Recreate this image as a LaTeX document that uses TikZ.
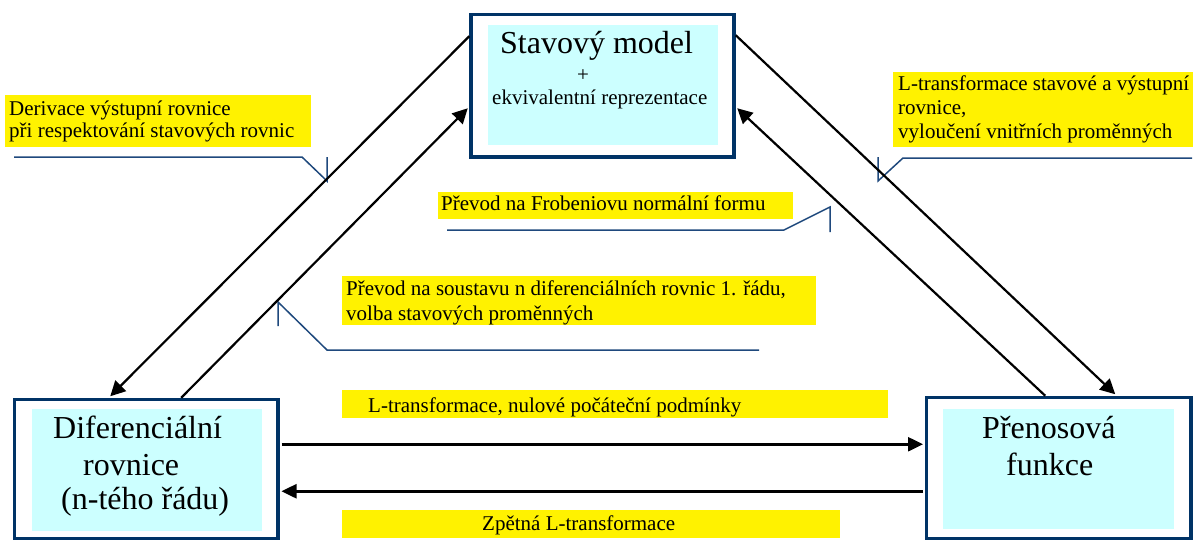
\documentclass[tikz,border=0pt]{standalone}
\usepackage{fontspec}
\setmainfont{Liberation Serif}
\usetikzlibrary{arrows.meta,calc}
\definecolor{navy}{RGB}{0,51,102}
\definecolor{cyanbg}{RGB}{204,255,255}
\definecolor{callblue}{RGB}{31,73,125}
\begin{document}
\begin{tikzpicture}[x=1pt,y=-1pt,
  outerbox/.style={draw=navy, line width=3.5pt, inner sep=0pt},
  cyanfill/.style={fill=cyanbg, inner sep=0pt},
  ylw/.style={fill=yellow, inner sep=0pt},
  bigtxt/.style={font=\fontsize{32}{38}\selectfont, anchor=base west, inner sep=0pt},
  smalltxt/.style={font=\fontsize{21}{24}\selectfont, anchor=base west, inner sep=0pt},
  conn/.style={line width=2.2pt, -{Triangle[length=15pt,width=15pt]}},
  hconn/.style={line width=2.5pt, -{Triangle[length=15pt,width=14pt]}},
  callout/.style={draw=callblue, line width=1.5pt}]
\useasboundingbox (0,0) rectangle (1203,541);
\fill[white] (0,0) rectangle (1203,541);

% cyan inner areas
\node[cyanfill, minimum width=230pt, minimum height=120pt] (smc) at (603,85) {};
\node[cyanfill, minimum width=230pt, minimum height=122pt] (dpc) at (147,470) {};
\node[cyanfill, minimum width=231pt, minimum height=120pt] (pfc) at (1058.5,469) {};

% outer boxes
\node[outerbox, minimum width=263pt, minimum height=142.5pt] (sm) at (602.5,85.75) {};
\node[outerbox, minimum width=263.5pt, minimum height=139pt] (dp) at (146.25,469) {};
\node[outerbox, minimum width=264.5pt, minimum height=141pt] (pf) at (1058.75,468) {};

% box texts
\node[bigtxt] (smt1) at (500,53) {Stavový model};
\node[font=\fontsize{21}{24}\selectfont, inner sep=0pt] (smt2) at (583,76) {+};
\node[smalltxt] (smt3) at (492,104) {ekvivalentní reprezentace};

\node[bigtxt] (dpt1) at (53,438) {Diferenciální};
\node[bigtxt] (dpt2) at (83,475) {rovnice};
\node[bigtxt] (dpt3) at (61,509) {(n-tého řádu)};

\node[bigtxt] (pft1) at (982,438) {Přenosová};
\node[bigtxt] (pft2) at (1006,475) {funkce};

% yellow labels
\node[ylw, minimum width=306pt, minimum height=52pt] (la) at (158,121) {};
\node[smalltxt] (lat1) at (9,115) {Derivace výstupní rovnice};
\node[smalltxt] (lat2) at (9,137) {při respektování stavových rovnic};

\node[ylw, minimum width=300pt, minimum height=75pt] (lb) at (1043,109.5) {};
\node[smalltxt] (lbt1) at (898,90) {L-transformace stavové a výstupní};
\node[smalltxt] (lbt2) at (898,114) {rovnice,};
\node[smalltxt] (lbt3) at (898,138) {vyloučení vnitřních proměnných};

\node[ylw, minimum width=355pt, minimum height=27pt] (lc) at (615.5,205.5) {};
\node[smalltxt] (lct1) at (441,210) {Převod na Frobeniovu normální formu};

\node[ylw, minimum width=474pt, minimum height=49pt] (ld) at (579,300.5) {};
\node[smalltxt] (ldt1) at (346,295) {Převod na soustavu n diferenciálních rovnic 1. řádu,};
\node[smalltxt] (ldt2) at (346,320) {volba stavových proměnných};

\node[ylw, minimum width=546pt, minimum height=28pt] (le) at (615,404) {};
\node[smalltxt] (let1) at (368,412) {L-transformace, nulové počáteční podmínky};

\node[ylw, minimum width=498pt, minimum height=28pt] (lf) at (591,524) {};
\node[smalltxt] (lft1) at (482,530) {Zpětná L-transformace};

% callout lines
\draw[callout] (14,157) -- (302,157) -- (327,181) -- (327,157);
\draw[callout] (1192,158) -- (903,158) -- (878,181) -- (878,157);
\draw[callout] (447,230) -- (784,230) -- (830,207) -- (830,232);
\draw[callout] (759,350) -- (327,350) -- (278,302) -- (278,326);

% connector endpoints
\coordinate (a1s) at ($(sm.north west)+(0,23.5)$);
\coordinate (a1e) at ($(dp.north west)+(97.5,-1.5)$);
\coordinate (a2s) at ($(dp.north west)+(168.5,0)$);
\coordinate (a2e) at ($(sm.north west)+(-1.5,95.5)$);
\coordinate (a3s) at ($(sm.north east)+(0,22.5)$);
\coordinate (a3e) at ($(pf.north west)+(190.5,-1.5)$);
\coordinate (a4s) at ($(pf.north west)+(120.5,0)$);
\coordinate (a4e) at ($(sm.north east)+(1.5,95.5)$);
\coordinate (h1s) at ($(dp.north east)+(1.75,46.5)$);
\coordinate (h1e) at ($(pf.north west)+(-1.75,48.5)$);
\coordinate (h2s) at ($(pf.north west)+(-1.75,95.5)$);
\coordinate (h2e) at ($(dp.north east)+(1.75,93.5)$);

\draw[conn] (a1s) -- (a1e);
\draw[conn] (a2s) -- (a2e);
\draw[conn] (a3s) -- (a3e);
\draw[conn] (a4s) -- (a4e);
\draw[hconn] (h1s) -- (h1e);
\draw[hconn] (h2s) -- (h2e);
\end{tikzpicture}
\end{document}
